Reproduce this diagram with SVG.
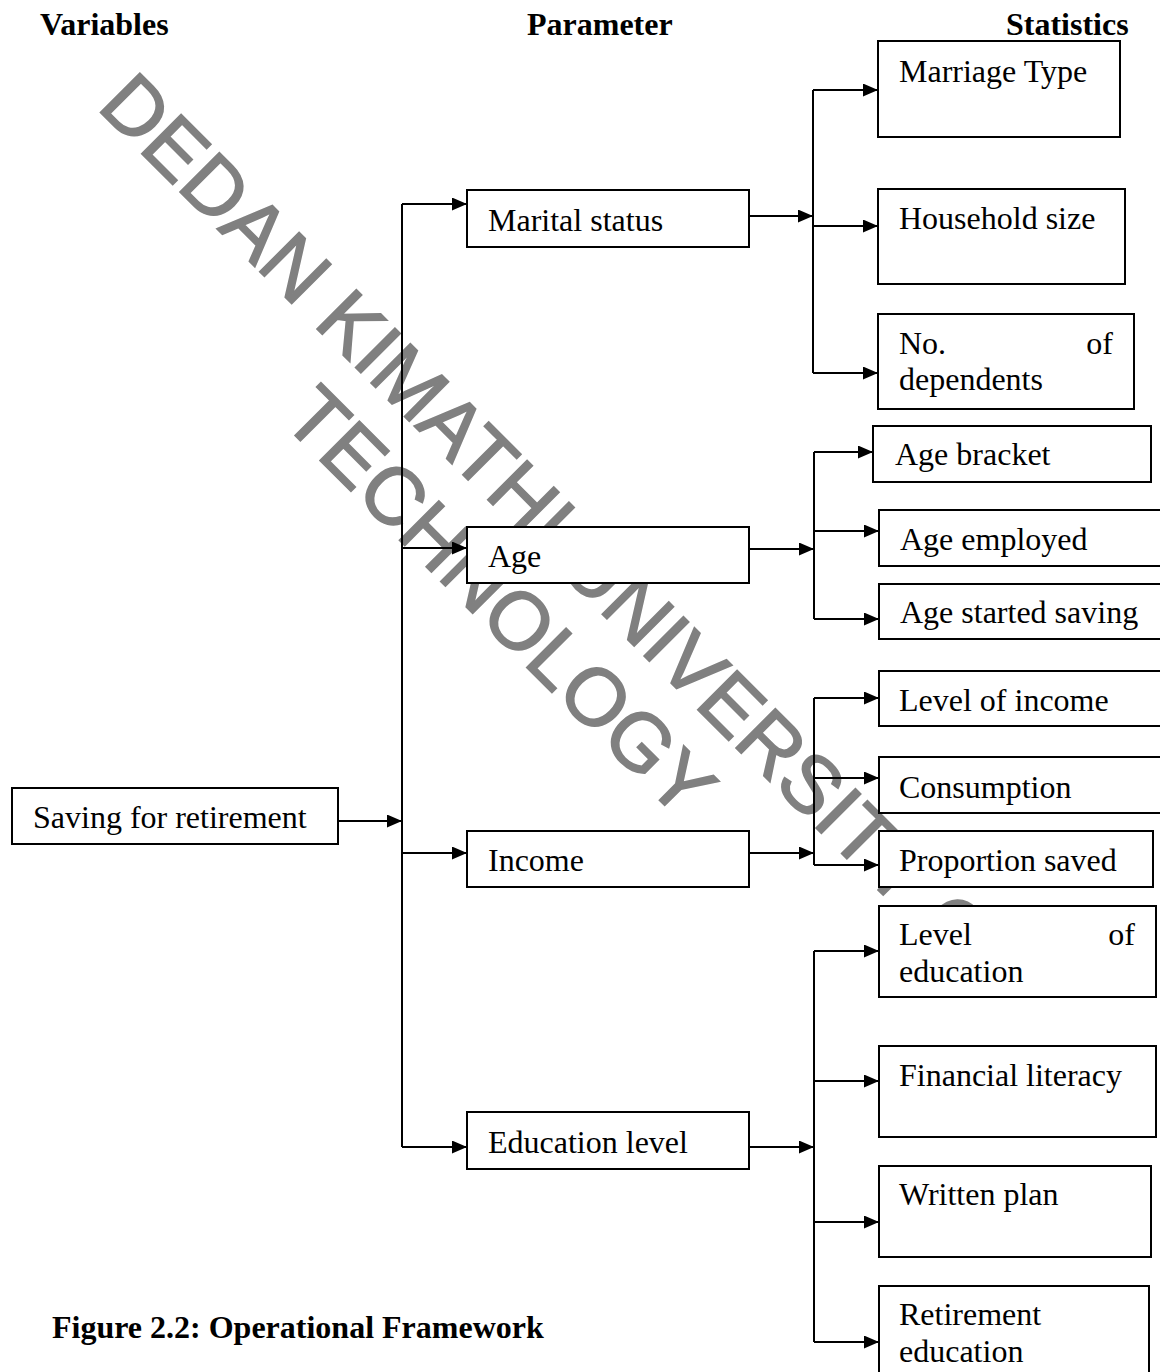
<svg xmlns="http://www.w3.org/2000/svg" width="1160" height="1372" viewBox="0 0 1160 1372">
<style>
.t{font-family:"Liberation Serif","Times New Roman",serif;font-size:32px;fill:#000}
.h{font-family:"Liberation Serif","Times New Roman",serif;font-size:32px;font-weight:bold;fill:#000}
.b{fill:#fff;stroke:#000;stroke-width:2}
.c{fill:none;stroke:#000;stroke-width:2}
.w{font-family:"Liberation Sans",Arial,sans-serif;font-size:81px;fill:#808080;stroke:#808080;stroke-width:1.6}
</style>
<defs>
<marker id="ah" markerUnits="userSpaceOnUse" markerWidth="15" markerHeight="13" refX="15" refY="6.5" orient="auto">
<path d="M0,0 L15,6.5 L0,13 z" fill="#000"/>
</marker>
</defs>
<rect width="1160" height="1372" fill="#fff"/>
<g id="watermark" transform="translate(545,557) rotate(45)">
<text class="w" x="0" y="0" text-anchor="middle">DEDAN KIMATHI UNIVERSITY OF</text>
<text class="w" x="0" y="91" text-anchor="middle">TECHNOLOGY</text>
</g>
<g id="headers">
<text class="h" x="40" y="35">Variables</text>
<text class="h" x="527" y="35">Parameter</text>
<text class="h" x="1006" y="35">Statistics</text>
</g>
<g id="connectors">
<path class="c" d="M338,821 H402" marker-end="url(#ah)"/>
<path class="c" d="M402,204 V1147"/>
<path class="c" d="M402,204 H467" marker-end="url(#ah)"/>
<path class="c" d="M402,548 H467" marker-end="url(#ah)"/>
<path class="c" d="M402,853 H467" marker-end="url(#ah)"/>
<path class="c" d="M402,1147 H467" marker-end="url(#ah)"/>
<path class="c" d="M749,216 H813" marker-end="url(#ah)"/>
<path class="c" d="M813,90 V373"/>
<path class="c" d="M813,90 H878" marker-end="url(#ah)"/>
<path class="c" d="M813,226 H878" marker-end="url(#ah)"/>
<path class="c" d="M813,373 H878" marker-end="url(#ah)"/>
<path class="c" d="M749,549 H814" marker-end="url(#ah)"/>
<path class="c" d="M814,452 V619"/>
<path class="c" d="M814,452 H873" marker-end="url(#ah)"/>
<path class="c" d="M814,531 H879" marker-end="url(#ah)"/>
<path class="c" d="M814,619 H879" marker-end="url(#ah)"/>
<path class="c" d="M749,853 H814" marker-end="url(#ah)"/>
<path class="c" d="M814,698 V865"/>
<path class="c" d="M814,698 H879" marker-end="url(#ah)"/>
<path class="c" d="M814,778 H879" marker-end="url(#ah)"/>
<path class="c" d="M814,865 H879" marker-end="url(#ah)"/>
<path class="c" d="M749,1147 H814" marker-end="url(#ah)"/>
<path class="c" d="M814,951 V1342"/>
<path class="c" d="M814,951 H879" marker-end="url(#ah)"/>
<path class="c" d="M814,1081 H879" marker-end="url(#ah)"/>
<path class="c" d="M814,1222 H879" marker-end="url(#ah)"/>
<path class="c" d="M814,1342 H879" marker-end="url(#ah)"/>
</g>
<g id="saving"><rect class="b" x="12" y="788" width="326" height="56"/><text class="t" x="33" y="828">Saving for retirement</text></g>
<g id="marital"><rect class="b" x="467" y="190" width="282" height="57"/><text class="t" x="488" y="231">Marital status</text></g>
<g id="age"><rect class="b" x="467" y="527" width="282" height="56"/><text class="t" x="488" y="567">Age</text></g>
<g id="income"><rect class="b" x="467" y="831" width="282" height="56"/><text class="t" x="488" y="871">Income</text></g>
<g id="education"><rect class="b" x="467" y="1112" width="282" height="57"/><text class="t" x="488" y="1153">Education level</text></g>
<g id="marriage-type"><rect class="b" x="878" y="41" width="242" height="96"/><text class="t" x="899" y="82">Marriage Type</text></g>
<g id="household"><rect class="b" x="878" y="189" width="247" height="95"/><text class="t" x="899" y="229">Household size</text></g>
<g id="dependents"><rect class="b" x="878" y="314" width="256" height="95"/><text class="t" x="899" y="354">No.</text><text class="t" x="1113" y="354" text-anchor="end">of</text><text class="t" x="899" y="390">dependents</text></g>
<g id="age-bracket"><rect class="b" x="873" y="426" width="278" height="56"/><text class="t" x="895" y="465">Age bracket</text></g>
<g id="age-employed"><rect class="b" x="879" y="510" width="290" height="56"/><text class="t" x="900" y="550">Age employed</text></g>
<g id="age-started"><rect class="b" x="879" y="584" width="290" height="55"/><text class="t" x="900" y="623">Age started saving</text></g>
<g id="level-income"><rect class="b" x="879" y="671" width="290" height="55"/><text class="t" x="899" y="711">Level of income</text></g>
<g id="consumption"><rect class="b" x="879" y="757" width="290" height="56"/><text class="t" x="899" y="798">Consumption</text></g>
<g id="proportion"><rect class="b" x="879" y="831" width="274" height="56"/><text class="t" x="899" y="871">Proportion saved</text></g>
<g id="level-education"><rect class="b" x="879" y="906" width="277" height="91"/><text class="t" x="899" y="945">Level</text><text class="t" x="1135" y="945" text-anchor="end">of</text><text class="t" x="899" y="982">education</text></g>
<g id="financial"><rect class="b" x="879" y="1046" width="277" height="91"/><text class="t" x="899" y="1086">Financial literacy</text></g>
<g id="written"><rect class="b" x="879" y="1166" width="272" height="91"/><text class="t" x="899" y="1205">Written plan</text></g>
<g id="retirement-ed"><rect class="b" x="879" y="1286" width="270" height="100"/><text class="t" x="899" y="1325">Retirement</text><text class="t" x="899" y="1362">education</text></g>
<text class="h" x="52" y="1338">Figure 2.2: Operational Framework</text>
</svg>
